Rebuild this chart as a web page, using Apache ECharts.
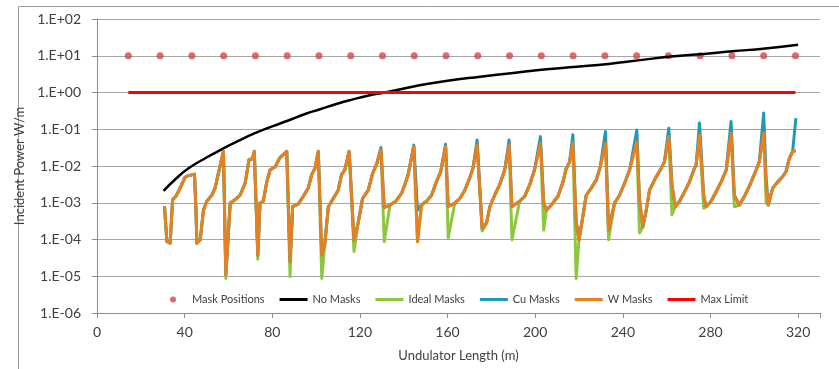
<!DOCTYPE html>
<html>
<head>
<meta charset="utf-8">
<script src="https://cdn.jsdelivr.net/npm/echarts@6/dist/echarts.min.js"></script>
<style>
  html, body { margin: 0; padding: 0; background: #fff; }
  #chart { width: 839px; height: 369px; }
</style>
</head>
<body>
<div id="chart"></div>
<script>
// mask positions along the undulator (m), all plotted at 10 W/m
var maskX = [14.3, 28.8, 43.3, 57.8, 72.3, 86.8, 101.3, 115.8, 130.3, 144.8, 159.3,
             173.8, 188.3, 202.8, 217.3, 231.8, 246.3, 260.8, 275.3, 289.8, 304.3, 318.8];
var maskLevel = 10;

// no masks curve
var noMaskX = [30.4, 36, 41.8, 50, 57.7, 65, 72.1, 80, 87, 95, 101.8, 110, 116, 124, 131.4,
               145.6, 160, 175, 190, 204, 219, 233.5, 248, 262, 277, 290, 305, 320];
var noMaskY = [0.0021, 0.0045, 0.0087, 0.017, 0.030, 0.050, 0.078, 0.12, 0.17, 0.26, 0.35, 0.50,
               0.63, 0.83, 1.0, 1.5, 2.1, 2.7, 3.4, 4.2, 5.0, 6.0, 7.6, 9.5, 11.2, 13.2, 15.8, 20];

// masked curves share one set of positions
var lenX = [30.8, 31.9, 33.4, 34.5, 36.0, 37.5, 40.2, 41.5, 44.5, 45.1, 45.6, 47.1, 48.6, 50.1, 52.4, 53.9, 55.4, 57.7,
  58.8, 60.8, 63.0, 65.3, 67.6, 69.4, 70.9, 71.8, 73.4, 74.4, 75.9, 77.5, 79.0, 81.3, 83.5, 86.6,
  88.1, 89.3, 91.9, 94.2, 96.4, 98.0, 99.5, 101.0, 102.6, 104.0, 105.6, 107.8, 110.1, 111.6, 113.1, 115.1,
  117.3, 119.2, 121.2, 123.8, 125.8, 127.6, 129.6, 131.1, 133.7, 136.4, 139.0, 140.5, 142.0, 144.6,
  146.3, 148.1, 150.4, 152.7, 154.9, 156.9, 159.1, 160.3, 163.3, 165.6, 167.9, 170.1, 171.6, 173.5,
  175.8, 177.8, 179.3, 181.5, 183.8, 186.1, 188.1, 189.4, 192.9, 195.2, 197.5, 199.8, 202.4,
  203.9, 205.1, 207.4, 210.4, 212.7, 214.2, 215.7, 217.2, 218.7, 220.0, 221.5, 223.3, 225.6, 227.9, 229.7, 232.1,
  233.5, 236.2, 238.5, 240.8, 243.1, 246.4, 247.6, 249.1, 250.7, 252.2, 254.5, 257.5, 259.0, 261.0,
  262.4, 263.9, 265.9, 268.2, 270.4, 272.4, 273.5, 275.0, 276.9, 278.0, 280.3, 282.6, 284.9, 287.2, 289.4,
  290.9, 293.2, 295.5, 297.7, 300.0, 302.3, 304.3, 305.4, 306.4, 308.4, 310.7, 312.9, 314.5, 316.0, 317.5, 319.0];

var wMask = [8.1e-4, 8.9e-5, 7.9e-5, 1.2e-3, 1.5e-3, 2.2e-3, 4.9e-3, 5.4e-3, 6.0e-3, 7.9e-4, 7.9e-5, 9.8e-5, 6.3e-4, 1.1e-3, 1.6e-3, 2.5e-3, 6.3e-3, 0.025,
  1.1e-5, 9.8e-4, 1.2e-3, 1.6e-3, 3.4e-3, 0.015, 0.0155, 0.025, 3.8e-5, 9.8e-4, 1.1e-3, 3.7e-3, 7.8e-3, 9.5e-3, 0.017, 0.025,
  2.5e-5, 7.8e-4, 9.3e-4, 1.5e-3, 2.5e-3, 5.8e-3, 8.7e-3, 0.025, 3.8e-5, 7.9e-5, 7.8e-4, 1.3e-3, 2.2e-3, 5.8e-3, 7.8e-3, 0.025,
  9.8e-5, 2.8e-4, 1.3e-3, 2.2e-3, 6.3e-3, 0.011, 0.028, 7.4e-4, 8.7e-4, 1.1e-3, 1.8e-3, 3.1e-3, 5.8e-3, 0.034,
  8.7e-5, 8.7e-4, 1.1e-3, 1.6e-3, 3.7e-3, 7.1e-3, 0.034, 7.9e-4, 9.8e-4, 1.3e-3, 2.2e-3, 4.7e-3, 8.7e-3, 0.037,
  2.0e-4, 2.8e-4, 7.8e-4, 1.6e-3, 3.1e-3, 7.8e-3, 0.037, 7.9e-4, 1.1e-3, 1.5e-3, 3.1e-3, 8.3e-3, 0.042,
  1.0e-3, 6.3e-4, 8.7e-4, 1.5e-3, 3.7e-3, 8.7e-3, 0.013, 0.042, 3.2e-4, 9.8e-5, 3.4e-4, 1.6e-3, 2.5e-3, 4.2e-3, 9.5e-3, 0.042,
  1.8e-4, 9.8e-4, 1.6e-3, 3.4e-3, 7.8e-3, 0.046, 1.3e-3, 2.2e-4, 6.3e-4, 2.2e-3, 4.2e-3, 8.7e-3, 0.013, 0.063,
  3.2e-3, 7.8e-4, 1.1e-3, 2.0e-3, 3.7e-3, 7.8e-3, 0.011, 0.071, 1.6e-3, 7.8e-4, 1.1e-3, 2.0e-3, 3.7e-3, 7.8e-3, 0.078,
  1.6e-3, 8.7e-4, 1.5e-3, 2.8e-3, 5.8e-3, 0.013, 0.078, 3.2e-3, 8.7e-4, 2.5e-3, 3.7e-3, 5.1e-3, 7.1e-3, 0.016, 0.025, 0.026];

var cuMask = [8.1e-4, 8.9e-5, 7.9e-5, 1.2e-3, 1.5e-3, 2.2e-3, 4.9e-3, 5.4e-3, 6.0e-3, 7.9e-4, 7.9e-5, 9.8e-5, 6.3e-4, 1.1e-3, 1.6e-3, 2.5e-3, 6.3e-3, 0.025,
  1.1e-5, 9.8e-4, 1.2e-3, 1.6e-3, 3.4e-3, 0.015, 0.0155, 0.025, 3.8e-5, 9.8e-4, 1.1e-3, 3.7e-3, 7.8e-3, 9.5e-3, 0.017, 0.025,
  2.5e-5, 7.8e-4, 9.3e-4, 1.5e-3, 2.5e-3, 5.8e-3, 8.7e-3, 0.025, 3.8e-5, 7.9e-5, 7.8e-4, 1.3e-3, 2.2e-3, 5.8e-3, 7.8e-3, 0.025,
  9.8e-5, 2.8e-4, 1.3e-3, 2.2e-3, 6.3e-3, 0.011, 0.032, 7.4e-4, 8.7e-4, 1.1e-3, 1.8e-3, 3.1e-3, 5.8e-3, 0.037,
  6.3e-4, 8.7e-4, 1.1e-3, 1.6e-3, 3.7e-3, 7.1e-3, 0.039, 7.9e-4, 9.8e-4, 1.3e-3, 2.2e-3, 4.7e-3, 8.7e-3, 0.051,
  2.0e-4, 2.8e-4, 7.8e-4, 1.6e-3, 3.1e-3, 7.8e-3, 0.051, 7.9e-4, 1.1e-3, 1.5e-3, 3.1e-3, 8.3e-3, 0.063,
  1.0e-3, 6.3e-4, 8.7e-4, 1.5e-3, 3.7e-3, 8.7e-3, 0.013, 0.071, 3.2e-4, 9.8e-5, 3.4e-4, 1.6e-3, 2.5e-3, 4.2e-3, 9.5e-3, 0.087,
  1.8e-4, 9.8e-4, 1.6e-3, 3.4e-3, 7.8e-3, 0.095, 1.3e-3, 2.2e-4, 6.3e-4, 2.2e-3, 4.2e-3, 8.7e-3, 0.013, 0.107,
  3.2e-3, 7.8e-4, 1.1e-3, 2.0e-3, 3.7e-3, 7.8e-3, 0.011, 0.148, 1.6e-3, 7.8e-4, 1.1e-3, 2.0e-3, 3.7e-3, 7.8e-3, 0.162,
  1.6e-3, 8.7e-4, 1.5e-3, 2.8e-3, 5.8e-3, 0.013, 0.275, 5.0e-3, 8.7e-4, 2.5e-3, 3.7e-3, 5.1e-3, 7.1e-3, 0.016, 0.025, 0.20];

var idealMask = [8.1e-4, 8.9e-5, 7.9e-5, 1.2e-3, 1.5e-3, 2.2e-3, 4.9e-3, 5.4e-3, 6.0e-3, 7.9e-4, 7.9e-5, 9.8e-5, 6.3e-4, 1.1e-3, 1.6e-3, 2.5e-3, 6.3e-3, 0.025,
  8.7e-6, 9.8e-4, 1.2e-3, 1.6e-3, 3.4e-3, 0.015, 0.0155, 0.025, 2.9e-5, 9.8e-4, 1.1e-3, 3.7e-3, 7.8e-3, 9.5e-3, 0.017, 0.025,
  9.8e-6, 7.8e-4, 9.3e-4, 1.5e-3, 2.5e-3, 5.8e-3, 8.7e-3, 0.025, 8.7e-6, 7.9e-5, 7.8e-4, 1.3e-3, 2.2e-3, 5.8e-3, 7.8e-3, 0.025,
  4.7e-5, 2.8e-4, 1.3e-3, 2.2e-3, 6.3e-3, 0.011, 0.028, 8.7e-5, 8.7e-4, 1.1e-3, 1.8e-3, 3.1e-3, 5.8e-3, 0.034,
  8.7e-5, 8.7e-4, 1.1e-3, 1.6e-3, 3.7e-3, 7.1e-3, 0.034, 1.1e-4, 9.8e-4, 1.3e-3, 2.2e-3, 4.7e-3, 8.7e-3, 0.037,
  1.7e-4, 2.8e-4, 7.8e-4, 1.6e-3, 3.1e-3, 7.8e-3, 0.037, 9.8e-5, 1.1e-3, 1.5e-3, 3.1e-3, 8.3e-3, 0.042,
  1.8e-4, 6.3e-4, 8.7e-4, 1.5e-3, 3.7e-3, 8.7e-3, 0.013, 0.042, 8.7e-6, 9.8e-5, 3.4e-4, 1.6e-3, 2.5e-3, 4.2e-3, 9.5e-3, 0.042,
  9.8e-5, 9.8e-4, 1.6e-3, 3.4e-3, 7.8e-3, 0.046, 1.5e-4, 2.2e-4, 6.3e-4, 2.2e-3, 4.2e-3, 8.7e-3, 0.013, 0.063,
  4.7e-4, 7.8e-4, 1.1e-3, 2.0e-3, 3.7e-3, 7.8e-3, 0.011, 0.071, 7.1e-4, 7.8e-4, 1.1e-3, 2.0e-3, 3.7e-3, 7.8e-3, 0.078,
  7.8e-4, 8.7e-4, 1.5e-3, 2.8e-3, 5.8e-3, 0.013, 0.078, 9.8e-4, 8.7e-4, 2.5e-3, 3.7e-3, 5.1e-3, 7.1e-3, 0.016, 0.025, 0.026];

var limitX = [14.3, 318.8];
var limitY = [1, 1];

var seriesNames = ['Mask Positions', 'No Masks', 'Ideal Masks', 'Cu Masks', 'W Masks', 'Max Limit'];

function pairs(xs, ys) {
  var out = [];
  for (var i = 0; i < xs.length; i++) out.push([xs[i], ys[i]]);
  return out;
}

function expLabel(v) {
  var e = Math.round(Math.log10(v));
  var a = Math.abs(e);
  return '1.E' + (e < 0 ? '-' : '+') + (a < 10 ? '0' : '') + a;
}

var chart = echarts.init(document.getElementById('chart'));
var font = 'Lato';
var lineIcon = 'path://M0,0L28,0L28,3L0,3Z';

var option = {
  animation: false,
  backgroundColor: '#fff',
  textStyle: { fontFamily: font },
  graphic: [{
    type: 'rect',
    shape: { x: 18.5, y: 6.5, width: 900, height: 500 },
    style: { fill: 'none', stroke: '#9a9a9a', lineWidth: 1 },
    silent: true, z: -1
  }],
  grid: { left: 97, right: 19, top: 19, bottom: 56 },
  legend: {
    left: 165, top: 289,
    itemWidth: 28, itemHeight: 6,
    itemGap: 15, itemTextGap: 1,
    textStyle: { fontFamily: font, fontSize: 11, color: '#404040' },
    data: [
      { name: seriesNames[0], icon: 'circle' },
      { name: seriesNames[1], icon: lineIcon },
      { name: seriesNames[2], icon: lineIcon },
      { name: seriesNames[3], icon: lineIcon },
      { name: seriesNames[4], icon: lineIcon },
      { name: seriesNames[5], icon: lineIcon }
    ]
  },
  xAxis: {
    type: 'value', min: 0, max: 330, interval: 40,
    name: 'Undulator Length (m)', nameLocation: 'middle', nameGap: 36,
    nameTextStyle: { fontFamily: font, fontSize: 13, color: '#404040' },
    axisLine: { lineStyle: { color: '#8c8c8c' } },
    axisTick: { length: 5, lineStyle: { color: '#8c8c8c' } },
    axisLabel: { fontFamily: font, fontSize: 14, color: '#404040', margin: 12,
      formatter: function (v) { return v % 40 === 0 ? String(v) : ''; } },
    splitLine: { show: false }
  },
  yAxis: {
    type: 'log', logBase: 10, min: 1e-6, max: 100,
    name: 'Incident Power W/m', nameLocation: 'middle', nameGap: 58,
    nameTextStyle: { fontFamily: font, fontSize: 13, color: '#404040' },
    axisLine: { show: true, lineStyle: { color: '#8c8c8c' } },
    axisTick: { show: true, length: 5, lineStyle: { color: '#8c8c8c' } },
    axisLabel: { fontFamily: font, fontSize: 14, color: '#404040', margin: 16, formatter: expLabel },
    splitLine: { lineStyle: { color: '#a6a6a6', width: 1 } },
    minorTick: { show: false }
  },
  series: [
    {
      name: seriesNames[0], type: 'scatter', symbol: 'circle', symbolSize: 7,
      itemStyle: { color: '#d0494a' },
      data: pairs(maskX, maskX.map(function () { return maskLevel; })), z: 3
    },
    {
      name: seriesNames[1], type: 'line', showSymbol: false, smooth: true,
      color: '#000000', lineStyle: { width: 2.5 },
      data: pairs(noMaskX, noMaskY), z: 4
    },
    {
      name: seriesNames[2], type: 'line', showSymbol: false,
      color: '#8dc63f', lineStyle: { width: 3, join: 'round' },
      data: pairs(lenX, idealMask), z: 5
    },
    {
      name: seriesNames[3], type: 'line', showSymbol: false,
      color: '#1f9ab5', lineStyle: { width: 3, join: 'round' },
      data: pairs(lenX, cuMask), z: 6
    },
    {
      name: seriesNames[4], type: 'line', showSymbol: false,
      color: '#e8801f', lineStyle: { width: 3, join: 'round' },
      data: pairs(lenX, wMask), z: 7
    },
    {
      name: seriesNames[5], type: 'line', showSymbol: false,
      color: '#ff0000', lineStyle: { width: 3 },
      data: pairs(limitX, limitY), z: 8
    }
  ]
};
chart.setOption(option);
</script>
</body>
</html>
